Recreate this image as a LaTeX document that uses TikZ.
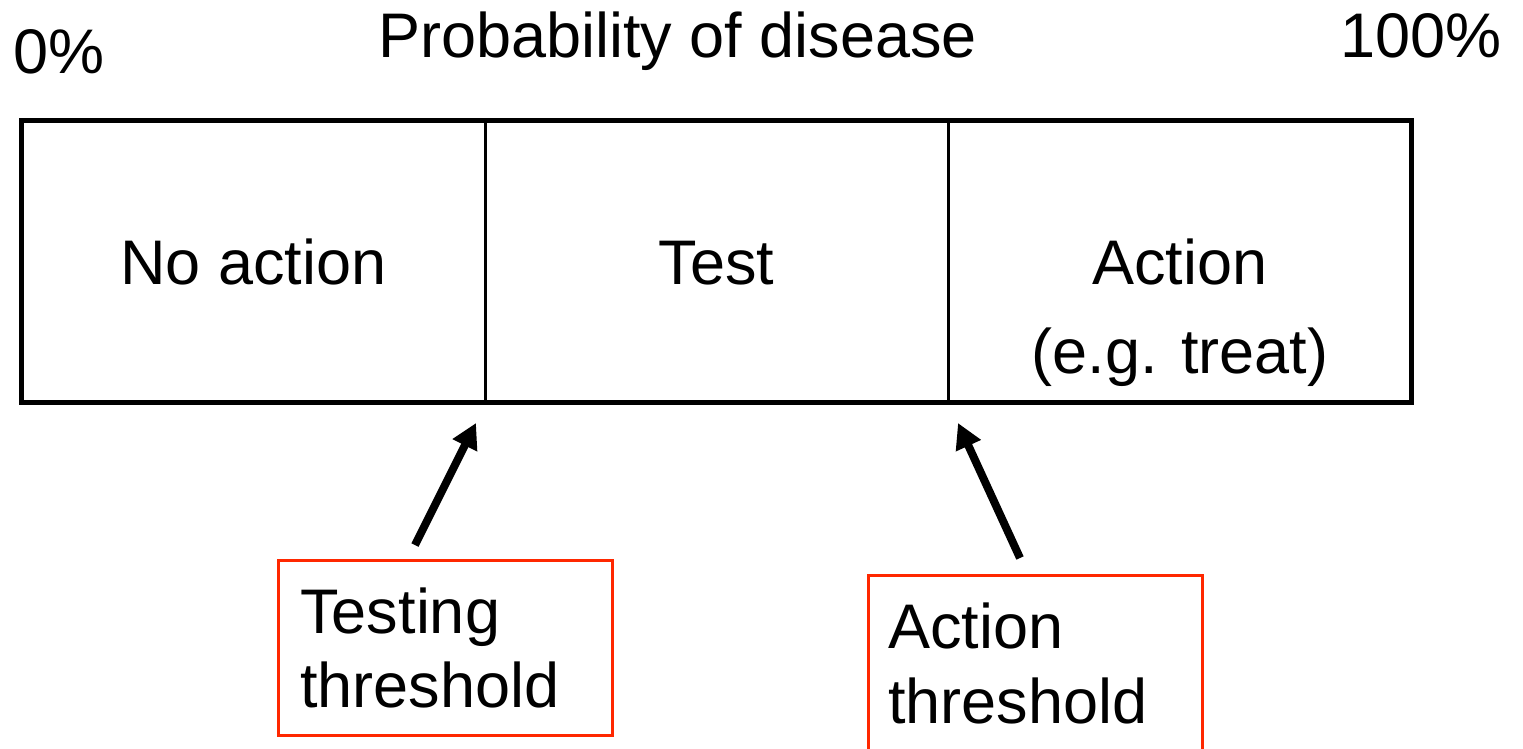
\documentclass[tikz,border=0pt]{standalone}
\usepackage{fontspec}
\setmainfont{Liberation Sans}
\usetikzlibrary{arrows.meta}
\definecolor{tred}{RGB}{255,40,0}
\begin{document}
\begin{tikzpicture}[x=0.5pt,y=-0.5pt,
  lbl/.style={inner sep=0pt,font=\fontsize{31.5}{37.5}\selectfont},
  cell/.style={inner sep=0pt,minimum width=231.5pt,minimum height=140.5pt},
  frame/.style={line width=2.7pt,line cap=rect},
  divider/.style={line width=1.3pt},
  thbox/.style={draw=tred,line width=1.5pt,inner sep=0pt,minimum width=167pt},
  arr/.style={line width=4pt,-{Triangle[length=12.5pt,width=13pt]}}
]
\useasboundingbox (0,0) rectangle (1523,749);
\clip (0,0) rectangle (1523,749);
% top labels
\node[lbl,anchor=base west] (zero) at (13,74) {0\%};
\node[lbl,anchor=base] (title) at (677.5,58) {Probability of disease};
\node[lbl,anchor=base east] (hundred) at (1502,58) {100\%};
% cells
\node[cell] (c1) at (253.5,261.5) {};
\node[cell] (c2) at (716.5,261.5) {};
\node[cell] (c3) at (1179.5,261.5) {};
\draw[divider] (c1.north east) -- (c1.south east);
\draw[divider] (c2.north east) -- (c2.south east);
\draw[frame] (c1.north west) rectangle (c3.south east);
\node[lbl,anchor=base] (noact) at (253.5,285) {No action};
\node[lbl,anchor=base] (test) at (716.5,285) {Test};
\node[lbl,anchor=base] (act) at (1180,285) {Action};
\node[lbl,anchor=base] (eg) at (1180,373) {(e.g. treat)};
% threshold boxes
\node[thbox,minimum height=87.5pt] (tbox) at (445,647.5) {};
\node[lbl,anchor=base west] (tt1) at (300,633) {Testing};
\node[lbl,anchor=base west] (tt2) at (300,707) {threshold};
\node[thbox,minimum height=100pt] (abox) at (1035,675) {};
\node[lbl,anchor=base west] (at1) at (888,648) {Action};
\node[lbl,anchor=base west] (at2) at (888,723) {threshold};
% arrows
\coordinate (t1tail) at (415,545);
\coordinate (t1tip) at (476,423);
\coordinate (t2tail) at (1020,558);
\coordinate (t2tip) at (958,423);
\draw[arr] (t1tail) -- (t1tip);
\draw[arr] (t2tail) -- (t2tip);
\end{tikzpicture}
\end{document}
